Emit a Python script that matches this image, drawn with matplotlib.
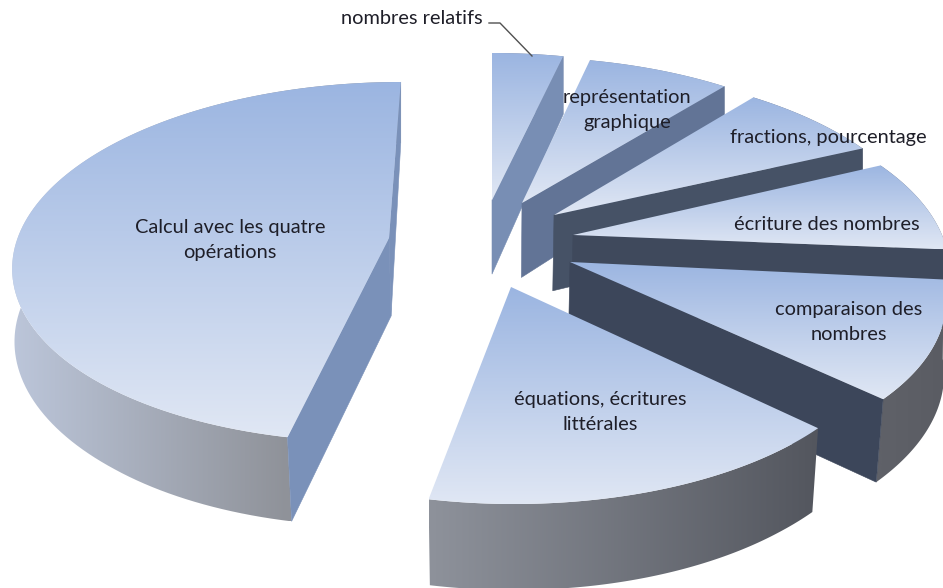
import numpy as np
import matplotlib
matplotlib.use("Agg")
import matplotlib.pyplot as plt
from matplotlib.patches import Polygon

# share of each theme, in %, clockwise from 12 o'clock
labels = ["nombres relatifs", "représentation\ngraphique", "fractions, pourcentage",
          "écriture des nombres", "comparaison des\nnombres",
          "équations, écritures\nlittérales", "Calcul avec les quatre\nopérations"]
values = [3.6, 7.2, 7.2, 8.3, 10.6, 16.2, 46.9]

# exploded position of each slice tip, in pixels
tip_x = [492, 522, 554, 573, 570, 511, 389]
tip_y = [200, 203, 215, 235, 262, 287, 238]
arc_shift = [3, 4, 3, 0, 3, 7, -6]
label_x = [412, 627, 828, 827, 849, 600, 230]
label_y = [19, 110, 138, 225, 322, 412, 240]

face_colors = ["#788eb4", "#627496", "#465266", "#3f495c", "#3c465a", "#3c465a", "#7a91b9"]
rim_left = ["#7a8498", "#7a8498", "#6a7080", "#6a7080", "#5f6168", "#8e929b", "#bcc6da"]
rim_right = ["#7a8498", "#7a8498", "#6a7080", "#6a7080", "#5a5c63", "#53565e", "#8f9299"]
top_start = np.array([155, 181, 225]) / 255
top_end = np.array([224, 231, 244]) / 255

RX = 369
RY = 175
PERSP = 1 / 6
VP_X = 492
LEAN = 0.8
BOTTOM_LEAN = 0.02


def depth_at(y):
    return np.interp(y, [55, 235, 500], [58, 78, 86])


def gradient_fill(ax, verts, c0, c1, horizontal, zorder, span=None):
    x0, x1 = verts[:, 0].min(), verts[:, 0].max()
    y0, y1 = verts[:, 1].min(), verts[:, 1].max()
    t = np.linspace(0, 1, 256)
    if span is not None:
        t = np.clip((np.linspace(x0, x1, 256) - span[0]) / (span[1] - span[0]), 0, 1)
    ramp = np.outer(1 - t, c0) + np.outer(t, c1)
    img = ramp[np.newaxis, :, :] if horizontal else ramp[:, np.newaxis, :]
    im = ax.imshow(img, extent=(x0, x1, y1, y0), origin="upper", aspect="auto",
                   interpolation="bilinear", zorder=zorder)
    im.set_clip_path(Polygon(verts, transform=ax.transData))


def rgb(c):
    return np.array(matplotlib.colors.to_rgb(c))


def lower(x, v):
    # the sides lean in towards the middle only at the front of the pie
    return x + (VP_X - x) * BOTTOM_LEAN * np.clip(-v * 1.3, 0, 1)


fig = plt.figure(figsize=(9.43, 5.88), dpi=100)
ax = fig.add_axes([0, 0, 1, 1])

edges = np.cumsum([0] + values) / sum(values) * 2 * np.pi
z = 2
for i in range(len(values)):
    th = np.linspace(edges[i], edges[i + 1], 120)
    u, v = np.sin(th), np.cos(th)
    w = 1 + PERSP * v
    off = (tip_x[i] - VP_X) * LEAN
    arc_x = tip_x[i] + (RX * u + off) / w - off
    arc_y = tip_y[i] - RY * v / w + arc_shift[i]
    d = depth_at(arc_y)
    tip_d = depth_at(tip_y[i])

    # outer rim goes first, the cut faces hide its back part
    rim = np.vstack([np.column_stack([arc_x, arc_y]),
                     np.column_stack([lower(arc_x, v), arc_y + d])[::-1]])
    front = arc_x[v < 0.2]
    span = (front.min(), front.max()) if len(front) > 1 else None
    gradient_fill(ax, rim, rgb(rim_left[i]), rgb(rim_right[i]), True, z, span)
    z += 1

    # a cut face only shows if moving down leaves the slice
    for k in (0, -1):
        ex, ey = arc_x[k] - tip_x[i], arc_y[k] - tip_y[i]
        mx, my = arc_x[60] - tip_x[i], arc_y[60] - tip_y[i]
        nx, ny = -ey, ex
        if nx * mx + ny * my > 0:
            ny = -ny
        if ny <= 0:
            continue
        quad = np.array([[tip_x[i], tip_y[i]], [arc_x[k], arc_y[k]],
                         [lower(arc_x[k], v[k]), arc_y[k] + d[k]],
                         [lower(tip_x[i], -1), tip_y[i] + tip_d]])
        ax.add_patch(Polygon(quad, fc=face_colors[i], ec=face_colors[i], lw=0.4, zorder=z))
    z += 1

    # top of the slice
    top = np.vstack([[tip_x[i], tip_y[i]], np.column_stack([arc_x, arc_y])])
    gradient_fill(ax, top, top_start, top_end, False, z)
    z += 1

ax.plot([489, 500, 532], [23, 23, 56], color="#505050", lw=1, zorder=z)

for name, lx, ly in zip(labels, label_x, label_y):
    ax.text(lx, ly, name, ha="center", va="center", ma="center", fontsize=14.4,
            family="Lato", color="#1e1e28", linespacing=1.6, zorder=z + 1)

ax.set_xlim(0, 943)
ax.set_ylim(588, 0)
ax.axis("off")
fig.savefig("out.png", dpi=100)
